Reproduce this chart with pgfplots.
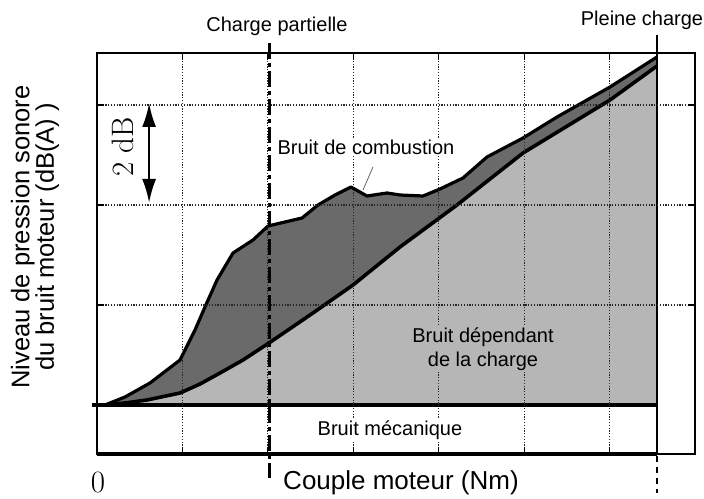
\documentclass[border=0pt]{standalone}
\usepackage{fontspec}
\setsansfont{Liberation Sans}
\renewcommand{\familydefault}{\sfdefault}
\usepackage{pgfplots}
\pgfplotsset{compat=1.18}
\usetikzlibrary{arrows.meta}
\definecolor{darkg}{RGB}{106,106,106}
\definecolor{lightg}{RGB}{182,182,182}
\newcommand{\pp}[2]{({#1pt-97pt},{454pt-#2pt})}
\begin{document}
\begin{tikzpicture}
\begin{axis}[
  at={(0,0)}, anchor=south west,
  width=598pt, height=401pt, scale only axis,
  xmin=0, xmax=7, ymin=-0.49, ymax=3.52,
  xtick={1,2,3,4,5,6}, ytick={1,2,3},
  xticklabels={}, yticklabels={},
  grid=major,
  grid style={black!85, line width=1.2pt, dash pattern=on 1.2pt off 1.6pt},
  axis on top,
  tick align=inside, major tick length=7pt,
  tick style={black, line width=1.2pt},
  axis line style={line width=1.6pt},
  clip=false,
]
% combustion noise area (upper curve)
\addplot[draw=none, fill=darkg] coordinates {
 (0.094,0) (0.328,0.08) (0.620,0.22) (0.972,0.45) (1.147,0.75) (1.264,0.98)
 (1.405,1.25) (1.592,1.52) (1.826,1.65) (2.002,1.79) (2.400,1.87) (2.587,2.00)
 (2.786,2.10) (2.973,2.18) (3.160,2.09) (3.395,2.12) (3.547,2.10) (3.816,2.09)
 (4.015,2.16) (4.284,2.27) (4.565,2.48) (4.987,2.67) (5.385,2.88) (6.005,3.18)
 (6.555,3.48) (6.555,0)} -- cycle;
% load dependent noise area (lower curve)
\addplot[draw=none, fill=lightg] coordinates {
 (0.094,0) (0.328,0.02) (0.585,0.05) (0.972,0.12) (1.206,0.21) (1.440,0.32)
 (1.709,0.45) (2.013,0.62) (2.528,0.92) (2.997,1.20) (3.547,1.58) (4.214,2.00)
 (4.600,2.26) (4.987,2.52) (6.005,3.05) (6.555,3.39) (6.555,0)} -- cycle;
% curves
\addplot[black, line width=3.2pt, line join=round] coordinates {
 (0.094,0) (0.328,0.08) (0.620,0.22) (0.972,0.45) (1.147,0.75) (1.264,0.98)
 (1.405,1.25) (1.592,1.52) (1.826,1.65) (2.002,1.79) (2.400,1.87) (2.587,2.00)
 (2.786,2.10) (2.973,2.18) (3.160,2.09) (3.395,2.12) (3.547,2.10) (3.816,2.09)
 (4.015,2.16) (4.284,2.27) (4.565,2.48) (4.987,2.67) (5.385,2.88) (6.005,3.18)
 (6.555,3.48)};
\addplot[black, line width=3.6pt, line join=round] coordinates {
 (0.094,0) (0.328,0.02) (0.585,0.05) (0.972,0.12) (1.206,0.21) (1.440,0.32)
 (1.709,0.45) (2.013,0.62) (2.528,0.92) (2.997,1.20) (3.547,1.58) (4.214,2.00)
 (4.600,2.26) (4.987,2.52) (6.005,3.05) (6.555,3.39)};
% mechanical noise band
\addplot[black, line width=4pt] coordinates {(-0.06,0) (6.555,0)};
\addplot[black, line width=4.5pt] coordinates {(0,-0.49) (6.555,-0.49)};
% partial load line
\addplot[black, line width=2.8pt, dash pattern=on 16pt off 4pt on 4pt off 4pt] coordinates {(2.02,3.62) (2.02,-0.73)};
% full load line
\addplot[black, line width=2.8pt] coordinates {(6.555,3.70) (6.555,-0.49)};
\addplot[black, line width=2.8pt, dash pattern=on 6pt off 5pt] coordinates {(6.555,-0.51) (6.555,-0.88)};
% 2 dB arrow
\addplot[black, line width=2.4pt, {Latex[length=24pt,width=14pt]}-{Latex[length=24pt,width=14pt]}] coordinates {(0.61,3.02) (0.61,2.02)};
\end{axis}
% texts
\node[font=\fontsize{20}{24}\selectfont, anchor=base] at \pp{277}{32} {Charge partielle};
\node[font=\fontsize{20}{24}\selectfont, anchor=base] at \pp{642}{26} {Pleine charge};
\node[font=\fontsize{26}{30}\selectfont, anchor=base] at \pp{401}{489} {Couple moteur (Nm)};
\node[font=\fontsize{25.5}{24.5}\selectfont, rotate=90, align=center] at \pp{35}{237} {Niveau de pression sonore\\du bruit moteur (dB(A) )};
\node[font=\rmfamily\fontsize{31}{34}\selectfont, inner sep=0pt] at \pp{98}{483} {0};
\node[font=\rmfamily\fontsize{31}{34}\selectfont, rotate=90, inner sep=0pt] at \pp{123}{147} {2 dB};
\draw[black!60, line width=0.8pt] \pp{373}{167} -- \pp{363}{190};
\node[font=\fontsize{20}{24}\selectfont, fill=white, inner sep=2pt] at \pp{366}{147} {Bruit de combustion};
\node[font=\fontsize{20}{24}\selectfont, fill=lightg, inner sep=2pt, align=center] at \pp{483}{349} {Bruit dépendant\\de la charge};
\node[font=\fontsize{20}{24}\selectfont, fill=white, inner sep=2pt] at \pp{390}{430} {Bruit mécanique};
\pgfresetboundingbox
\useasboundingbox (-97pt,-44pt) rectangle (607pt,454pt);
\end{tikzpicture}
\end{document}
